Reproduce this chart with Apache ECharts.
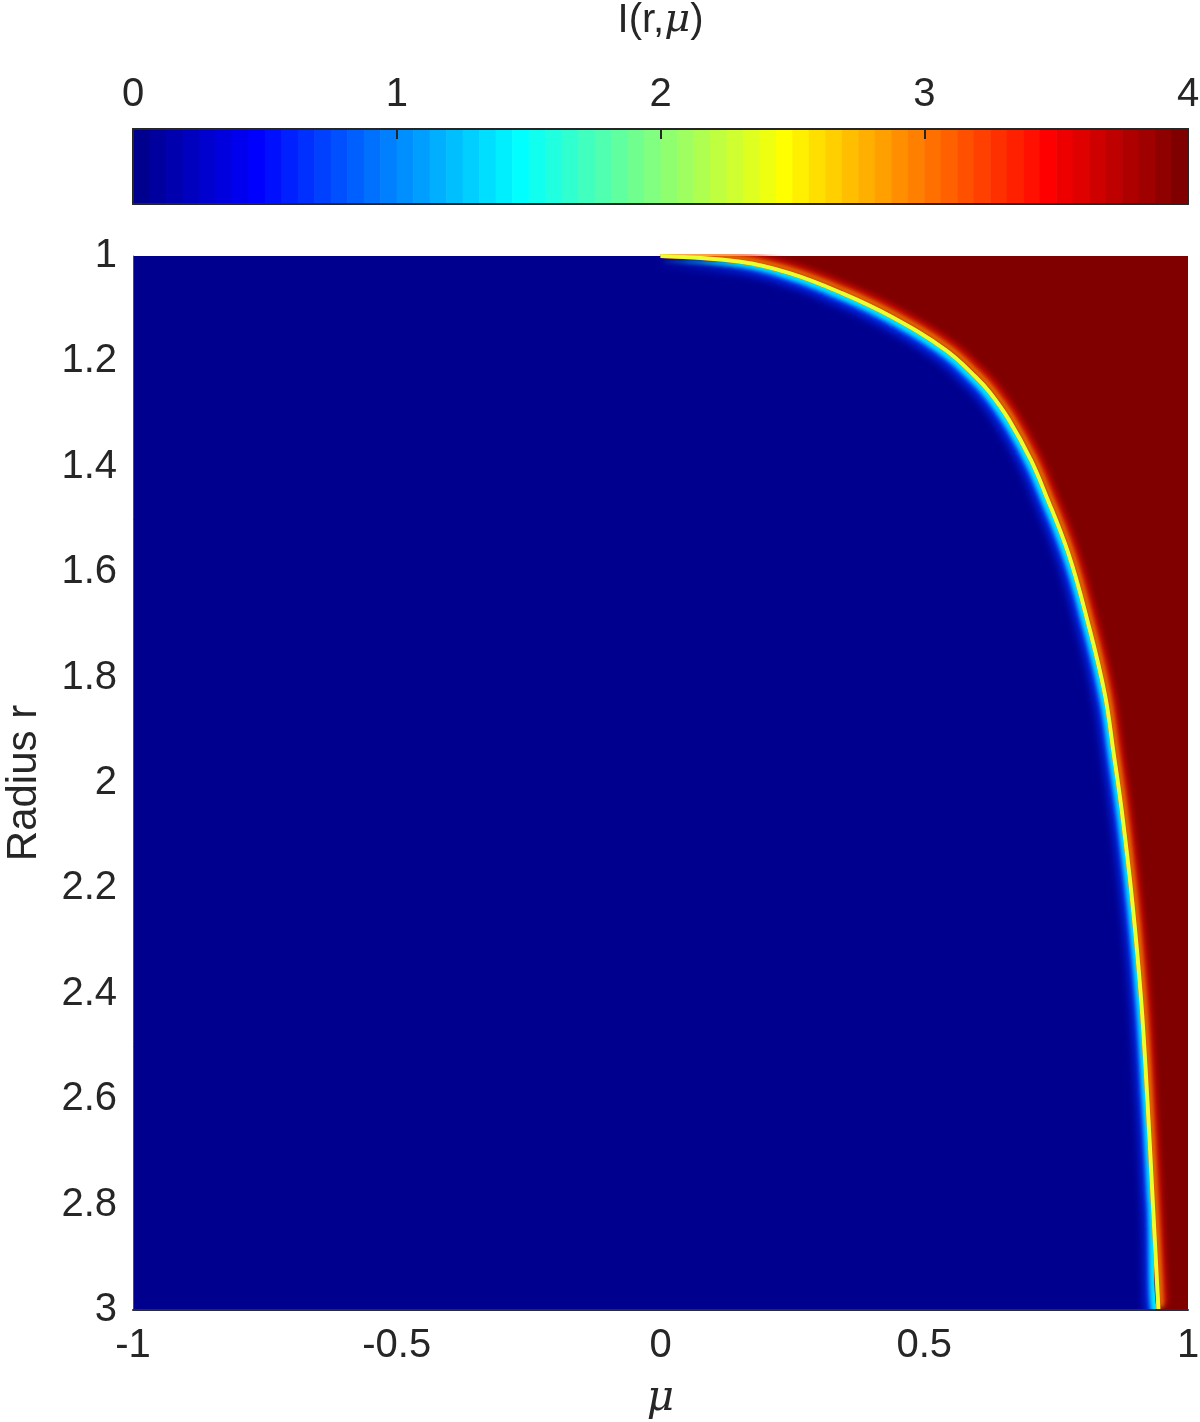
<!DOCTYPE html>
<html>
<head>
<meta charset="utf-8">
<title>I(r, mu)</title>
<script src="https://cdn.jsdelivr.net/npm/echarts@6/dist/echarts.min.js"></script>
<style>
  html, body { margin: 0; padding: 0; background: #fff; }
  #chart { width: 1200px; height: 1422px; }
</style>
</head>
<body>
<div id="chart"></div>
<script>
// edge of the lit region (radius r -> mu where I jumps)
var radius = [1.0, 1.011, 1.033, 1.071, 1.115, 1.178, 1.23, 1.26, 1.31, 1.387, 1.45,
              1.564, 1.691, 1.83, 1.944, 2.05, 2.222, 2.41, 2.602, 2.791, 3.0];
var muEdge = [0.0, 0.151, 0.246, 0.345, 0.437, 0.54, 0.598, 0.625, 0.66, 0.702, 0.729,
              0.773, 0.809, 0.842, 0.859, 0.874, 0.894, 0.911, 0.923, 0.933, 0.944];
// intensity on each side of the edge
var iDark = 0;
var iLit = 4;
// tick labels
var muTicks = [-1, -0.5, 0, 0.5, 1];
var rTicks = [1, 1.2, 1.4, 1.6, 1.8, 2, 2.2, 2.4, 2.6, 2.8, 3];
var cbTicks = [0, 1, 2, 3, 4];

var textColor = '#262626';
var font = 'Liberation Sans, Arial, sans-serif';

// matlab jet(64)
function u(i) {
  if (i < 1 || i > 47) return 0;
  if (i <= 16) return i / 16;
  if (i <= 31) return 1;
  return (48 - i) / 16;
}
var jet = [];
for (var k = 1; k <= 64; k++) {
  var c = [u(k - 24), u(k - 8), u(k + 8)].map(function (v) { return Math.round(v * 255); });
  jet.push('rgb(' + c.join(',') + ')');
}
function colorOf(v) {
  var idx = Math.min(63, Math.floor((v - cbTicks[0]) / (cbTicks[4] - cbTicks[0]) * 64));
  return jet[idx];
}

var edge = radius.map(function (r, i) { return [muEdge[i], r]; });
// lit side reaches the bottom right corner
var litArea = edge.concat([[muTicks[4], rTicks[rTicks.length - 1]]]);

// colorbar cells
var cbCells = [];
for (var j = 0; j < 64; j++) {
  cbCells.push([j * 4 / 64, (j + 1) * 4 / 64, 0, 1]);
}

var chart = echarts.init(document.getElementById('chart'));

var labelStyle = { fontSize: 40, color: textColor, fontFamily: font };
var noAxisBits = { axisTick: { show: false }, axisLabel: { show: false }, splitLine: { show: false } };
var frameLine = { show: true, onZero: false, lineStyle: { color: textColor, width: 2 } };

// lit region polygon; its shadow is thrown onto the dark side
function litSeries(z, fill, glow, blur, shift) {
  return {
    type: 'line', xAxisIndex: 0, yAxisIndex: 0, data: litArea,
    smooth: 0.4, symbol: 'none', silent: true, z: z,
    lineStyle: { width: 0, opacity: 0 },
    areaStyle: { color: fill, opacity: 1, origin: 'start',
                 shadowColor: glow, shadowBlur: blur, shadowOffsetX: -shift, shadowOffsetY: shift }
  };
}
// the edge line; its shadow falls on the lit side
function edgeSeries(z, color, glow, blur, shift) {
  return {
    type: 'line', xAxisIndex: 0, yAxisIndex: 0, data: edge,
    smooth: 0.4, symbol: 'none', silent: true, z: z,
    lineStyle: { color: color, width: 4, shadowColor: glow, shadowBlur: blur,
                 shadowOffsetX: shift, shadowOffsetY: -shift }
  };
}

chart.setOption({
  animation: false,
  backgroundColor: '#fff',
  grid: [
    { left: 133, top: 256, width: 1055, height: 1054, show: true, outerBoundsMode: 'none',
      containLabel: false, backgroundColor: colorOf(iDark), borderWidth: 0 },
    { left: 133, top: 129, width: 1055, height: 75, show: false, outerBoundsMode: 'none',
      containLabel: false }
  ],
  xAxis: [
    {
      gridIndex: 0, type: 'value', min: muTicks[0], max: muTicks[4], interval: 0.5,
      position: 'bottom', z: 10,
      axisLine: { show: true, onZero: false, lineStyle: { color: '#2a2a40', width: 2 } },
      axisTick: { show: false },
      splitLine: { show: false },
      axisLabel: Object.assign({ margin: 16 }, labelStyle),
      name: 'μ', nameLocation: 'middle', nameGap: 68,
      nameTextStyle: { fontSize: 42, color: textColor, fontStyle: 'italic', fontFamily: 'DejaVu Serif, serif' }
    },
    {
      gridIndex: 1, type: 'value', min: cbTicks[0], max: cbTicks[4], interval: 1,
      position: 'top', z: 10,
      axisLine: frameLine,
      axisTick: { show: true, inside: true, length: 10, lineStyle: { color: textColor, width: 2 } },
      splitLine: { show: false },
      axisLabel: Object.assign({ margin: 14 }, labelStyle),
      name: 'I(r,{m|μ})', nameLocation: 'middle', nameGap: 88,
      nameTextStyle: {
        fontSize: 40, color: textColor, fontFamily: font,
        rich: { m: { fontSize: 40, color: textColor, fontStyle: 'italic', fontFamily: 'DejaVu Serif, serif' } }
      }
    },
    Object.assign({
      gridIndex: 1, type: 'value', min: cbTicks[0], max: cbTicks[4], position: 'bottom', z: 10,
      axisLine: frameLine
    }, noAxisBits)
  ],
  yAxis: [
    {
      gridIndex: 0, type: 'value', min: rTicks[0], max: rTicks[rTicks.length - 1], interval: 0.2,
      inverse: true,
      axisLine: { show: true, onZero: false, lineStyle: { color: '#505050', width: 1 } },
      axisTick: { show: false },
      splitLine: { show: false },
      axisLabel: Object.assign({ margin: 16 }, labelStyle),
      name: 'Radius r', nameLocation: 'middle', nameGap: 88,
      nameTextStyle: { fontSize: 42, color: textColor, fontFamily: font }
    },
    Object.assign({ gridIndex: 1, type: 'value', min: 0, max: 1, z: 10, axisLine: frameLine }, noAxisBits),
    Object.assign({ gridIndex: 1, type: 'value', min: 0, max: 1, position: 'right', z: 10,
      axisLine: frameLine }, noAxisBits)
  ],
  series: [
    litSeries(2, '#0040ff', '#0034ff', 10, 9),          // blue haze
    litSeries(3, colorOf(iLit), '#00e8ff', 4, 5),       // lit region + cyan rim
    edgeSeries(4, '#ff3000', '#ff1400', 6, 6),          // red fringe
    edgeSeries(5, '#eaff30', '#ff9400', 4, 3),          // yellow edge + orange
    // colorbar
    {
      type: 'custom', xAxisIndex: 1, yAxisIndex: 1, data: cbCells, silent: true,
      encode: { x: [0, 1], y: [2, 3] },
      renderItem: function (params, api) {
        var p0 = api.coord([api.value(0), api.value(3)]);
        var p1 = api.coord([api.value(1), api.value(2)]);
        return {
          type: 'rect',
          shape: { x: p0[0], y: p0[1], width: p1[0] - p0[0] + 0.6, height: p1[1] - p0[1] },
          style: { fill: jet[params.dataIndex] }
        };
      }
    }
  ]
});
</script>
</body>
</html>
